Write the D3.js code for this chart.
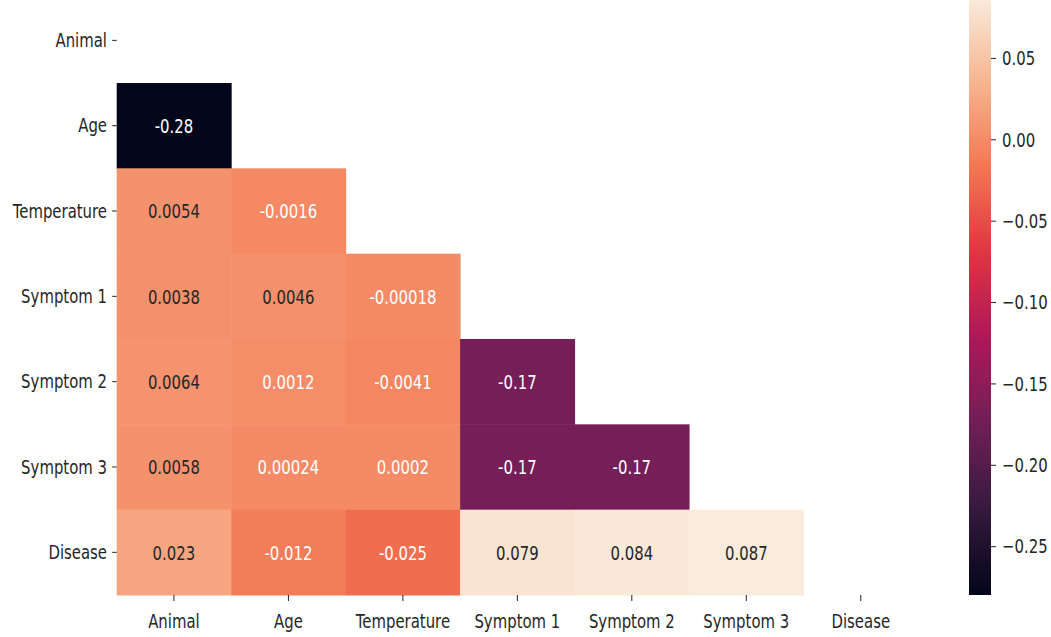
<!DOCTYPE html>
<html>
<head>
<meta charset="utf-8">
<script src="https://cdn.jsdelivr.net/npm/d3@7"></script>
<style>
  html, body { margin: 0; padding: 0; background: #fff; }
  svg { display: block; }
  text { font-family: "DejaVu Sans", sans-serif; }
</style>
</head>
<body>
<svg id="chart" width="1051" height="637"></svg>
<script>
// ---- data ----
const variables = ["Animal", "Age", "Temperature", "Symptom 1", "Symptom 2", "Symptom 3", "Disease"];
// lower-triangle correlations, row i holds columns 0..i-1
const rowAnimal      = [];
const rowAge         = [-0.28];
const rowTemperature = [0.0054, -0.0016];
const rowSymptom1    = [0.0038, 0.0046, -0.00018];
const rowSymptom2    = [0.0064, 0.0012, -0.0041, -0.17];
const rowSymptom3    = [0.0058, 0.00024, 0.0002, -0.17, -0.17];
const rowDisease     = [0.023, -0.012, -0.025, 0.079, 0.084, 0.087];
const colorbarTicks  = [0.05, 0.00, -0.05, -0.10, -0.15, -0.20, -0.25];
const rocketStops    = ["#03051a", "#35193e", "#701f57", "#ad1759", "#e13342", "#f37651", "#f6b48f", "#faebdd"];

const rows = [rowAnimal, rowAge, rowTemperature, rowSymptom1, rowSymptom2, rowSymptom3, rowDisease];
const cells = [];
rows.forEach((r, i) => r.forEach((v, j) => cells.push({ row: variables[i], col: variables[j], v })));

const vmin = d3.min(cells, d => d.v), vmax = d3.max(cells, d => d.v);

// ---- layout ----
const SX = 0.745;         // horizontal text squeeze of the reference
const FS = 20;
const plotLeft = 116.7, plotRight = 918, plotTop = -2.3, plotBottom = 595;
const cbX = 969, cbW = 22;

const svg = d3.select("#chart");
const x = d3.scaleBand().domain(variables).range([plotLeft, plotRight]);
const y = d3.scaleBand().domain(variables).range([plotTop, plotBottom]);
const interp = d3.piecewise(d3.interpolateRgb, rocketStops);
const color = d3.scaleSequential(interp).domain([vmin, vmax]);

const fmt = v => d3.format(".2~g")(v).replace("\u2212", "-");
const darkTextAbove = 0.0025;

// cells
svg.append("g").selectAll("rect").data(cells).join("rect")
  .attr("x", d => x(d.col)).attr("y", d => y(d.row))
  .attr("width", x.bandwidth() + 0.5).attr("height", y.bandwidth() + 0.5)
  .attr("fill", d => color(d.v));

svg.append("g").selectAll("text").data(cells).join("text")
  .attr("transform", d => `translate(${x(d.col) + x.bandwidth() / 2},${y(d.row) + y.bandwidth() / 2}) scale(${SX},1)`)
  .attr("text-anchor", "middle").attr("dy", "0.36em")
  .attr("font-size", FS)
  .attr("fill", d => d.v > darkTextAbove ? "#262626" : "#ffffff")
  .text(d => fmt(d.v));

// y axis
const gy = svg.append("g").attr("transform", `translate(${plotLeft},0)`)
  .call(d3.axisLeft(y).tickSize(4.5).tickPadding(0));
gy.select(".domain").remove();
gy.selectAll("line").attr("stroke", "#222");
gy.selectAll("text").attr("font-size", FS).attr("fill", "#262626")
  .attr("font-family", "DejaVu Sans").attr("x", -9.7 / SX).attr("dy", "0.34em")
  .attr("transform", `scale(${SX},1)`);

// x axis
const gx = svg.append("g").attr("transform", `translate(0,${plotBottom})`)
  .call(d3.axisBottom(x).tickSize(6).tickPadding(0));
gx.select(".domain").remove();
gx.selectAll("line").attr("stroke", "#222");
gx.selectAll(".tick text").attr("font-size", FS).attr("fill", "#262626")
  .attr("font-family", "DejaVu Sans").attr("y", 18.5).attr("dy", "0.71em")
  .attr("transform", `scale(${SX},1)`);

// colorbar
const cy = d3.scaleLinear().domain([vmin, vmax]).range([plotBottom, plotTop]);
const defs = svg.append("defs");
const grad = defs.append("linearGradient").attr("id", "cbgrad")
  .attr("x1", 0).attr("y1", 1).attr("x2", 0).attr("y2", 0);
d3.range(0, 1.0001, 0.02).forEach(t => {
  grad.append("stop").attr("offset", t).attr("stop-color", interp(t));
});
svg.append("rect").attr("x", cbX).attr("y", plotTop).attr("width", cbW).attr("height", plotBottom - plotTop)
  .attr("fill", "url(#cbgrad)");

const gc = svg.append("g").attr("transform", `translate(${cbX + cbW},0)`)
  .call(d3.axisRight(cy).tickValues(colorbarTicks).tickFormat(d3.format(".2f")).tickSize(5).tickPadding(0));
gc.select(".domain").remove();
gc.selectAll("line").attr("stroke", "#222");
gc.selectAll("text").attr("font-size", FS).attr("fill", "#262626")
  .attr("font-family", "DejaVu Sans").attr("x", 11 / SX).attr("dy", "0.34em")
  .attr("transform", `scale(${SX},1)`);
</script>
</body>
</html>
